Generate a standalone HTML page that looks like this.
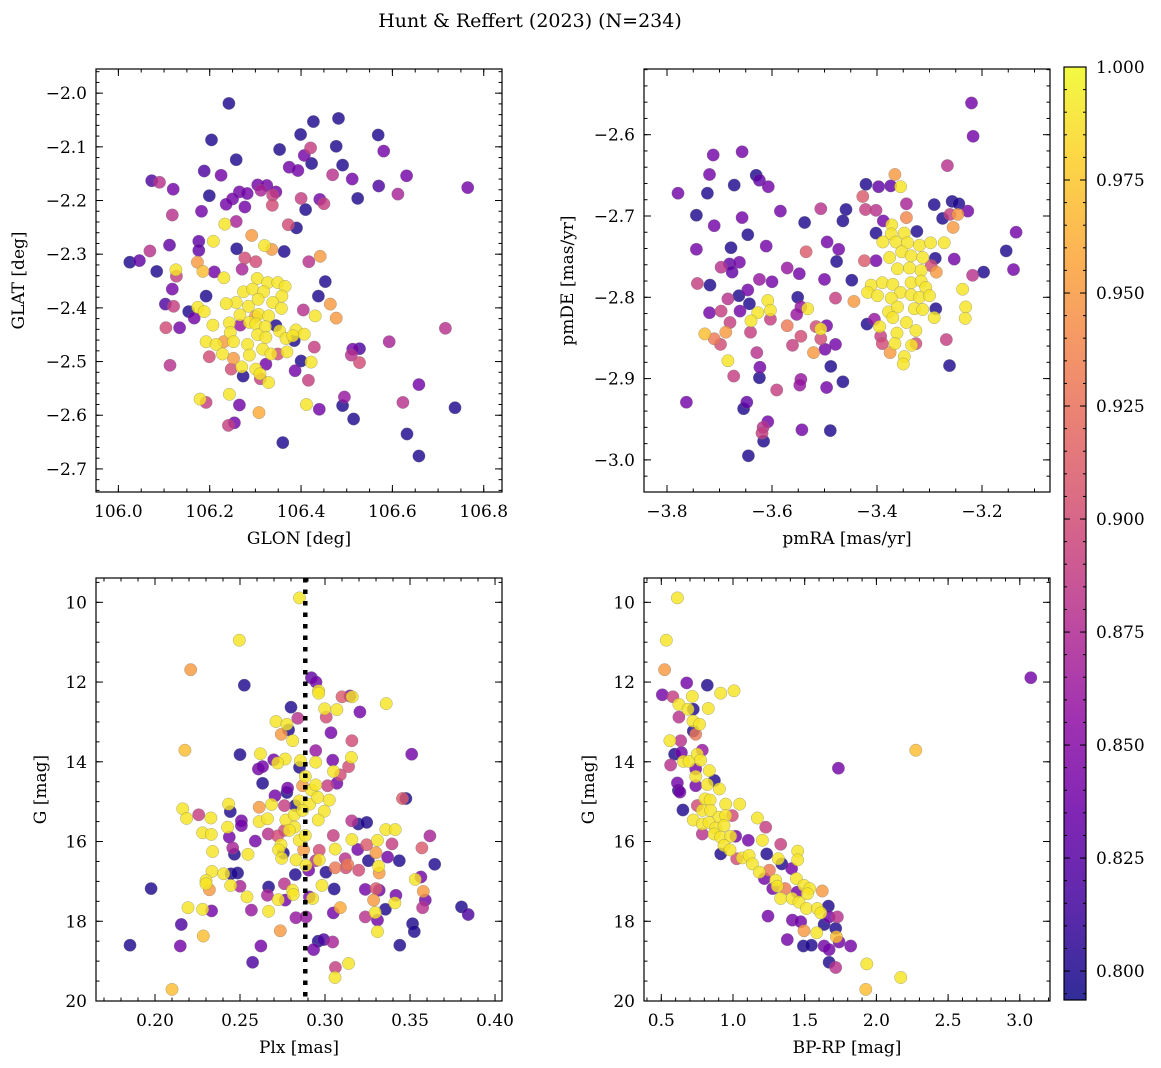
<!DOCTYPE html>
<html><head><meta charset="utf-8">
<style>
html,body{margin:0;padding:0;background:#fff;}
svg{display:block;font-family:"DejaVu Serif","Liberation Serif",serif;}
</style></head>
<body>
<svg id="fig" width="1161" height="1068" viewBox="0 0 1161 1068" xmlns="http://www.w3.org/2000/svg">
<text x="530" y="27" font-size="19" text-anchor="middle">Hunt &amp; Reffert (2023) (N=234)</text>
</svg>
<script>
// ---- Panel 1: GLON / GLAT ----
const glon = [106.242,106.427,106.482,106.399,106.569,106.204,106.353,106.421,106.477,106.581,106.258,106.407,106.423,106.491,106.374,106.393,106.188,106.225,106.073,106.090,106.469,106.512,106.631,106.120,106.570,106.765,106.612,106.199,106.265,106.282,106.305,106.325,106.345,106.312,106.338,106.250,106.236,106.277,106.337,106.400,106.441,106.450,106.524,106.182,106.118,106.410,106.258,106.233,106.372,106.390,106.292,106.208,106.320,106.336,106.363,106.259,106.176,106.176,106.112,106.069,106.025,106.046,106.084,106.126,106.127,106.173,106.185,106.210,106.231,106.277,106.301,106.271,106.417,106.442,106.453,106.438,106.118,106.192,106.103,106.121,106.154,106.166,106.174,106.188,106.104,106.134,106.464,106.477,106.405,106.431,
106.304,106.327,106.349,106.365,106.274,106.294,106.318,106.358,106.338,106.258,106.236,106.285,106.306,106.357,106.266,106.307,106.329,106.207,106.243,106.287,106.301,106.322,106.353,106.389,106.407,106.245,106.192,106.214,106.252,106.283,106.305,106.323,106.367,106.382,106.228,106.287,106.316,106.334,106.369,106.422,106.270,106.301,106.310,106.329,106.243,106.179,106.412,
106.231,106.199,106.252,106.247,106.349,106.429,106.416,106.300,106.267,106.345,106.385,106.400,106.387,106.273,106.323,106.311,106.513,106.528,106.510,106.528,106.593,106.716,106.658,106.623,106.737,106.632,106.658,106.495,106.491,106.515,106.440,106.265,106.192,106.113,106.254,106.241,106.360,106.308];
const glat = [-2.019,-2.053,-2.047,-2.077,-2.078,-2.087,-2.105,-2.102,-2.099,-2.108,-2.124,-2.116,-2.131,-2.134,-2.138,-2.144,-2.145,-2.153,-2.163,-2.166,-2.152,-2.160,-2.154,-2.179,-2.173,-2.176,-2.188,-2.191,-2.184,-2.187,-2.171,-2.172,-2.184,-2.181,-2.190,-2.197,-2.207,-2.212,-2.209,-2.196,-2.198,-2.206,-2.196,-2.220,-2.227,-2.217,-2.239,-2.244,-2.245,-2.251,-2.265,-2.276,-2.284,-2.291,-2.295,-2.290,-2.276,-2.293,-2.283,-2.294,-2.315,-2.312,-2.332,-2.329,-2.341,-2.315,-2.332,-2.333,-2.344,-2.307,-2.314,-2.328,-2.314,-2.304,-2.351,-2.378,-2.365,-2.378,-2.393,-2.397,-2.407,-2.419,-2.399,-2.407,-2.437,-2.437,-2.393,-2.419,-2.404,-2.415,
-2.345,-2.353,-2.353,-2.360,-2.370,-2.365,-2.370,-2.378,-2.390,-2.390,-2.392,-2.397,-2.384,-2.401,-2.413,-2.412,-2.415,-2.432,-2.428,-2.427,-2.430,-2.435,-2.443,-2.441,-2.449,-2.446,-2.463,-2.468,-2.463,-2.468,-2.450,-2.455,-2.457,-2.452,-2.486,-2.488,-2.477,-2.486,-2.482,-2.501,-2.510,-2.514,-2.523,-2.539,-2.561,-2.570,-2.580,
-2.463,-2.491,-2.494,-2.514,-2.486,-2.473,-2.535,-2.416,-2.432,-2.433,-2.461,-2.499,-2.517,-2.527,-2.505,-2.532,-2.477,-2.476,-2.488,-2.502,-2.463,-2.438,-2.543,-2.576,-2.586,-2.635,-2.676,-2.566,-2.582,-2.607,-2.589,-2.581,-2.576,-2.507,-2.614,-2.619,-2.651,-2.595];
const prob1 = [.80,.80,.80,.80,.80,.80,.80,.89,.80,.84,.80,.84,.80,.80,.84,.84,.82,.84,.82,.88,.88,.84,.84,.84,.82,.84,.87,.80,.84,.84,.84,.84,.84,.87,.89,.84,.84,.84,.90,.89,.84,.89,.80,.84,.88,.80,.87,.99,.90,.80,.95,.99,.99,.95,.80,.80,.83,.83,.83,.88,.80,.83,.80,.99,.89,.95,.97,.84,.99,.90,.90,.87,.88,.95,.80,.80,.84,.80,.82,.89,.80,.84,.99,.99,.90,.84,.95,.95,.88,.99,
.99,.99,.99,.99,.99,.99,.99,.99,.99,.99,.99,.99,.99,.99,.99,.99,.99,.99,.99,.99,.99,.99,.99,.99,.99,.99,.99,.99,.99,.99,.99,.99,.99,.99,.99,.99,.99,.99,.99,.99,.99,.99,.99,.99,.99,.99,.99,
.95,.90,.95,.90,.90,.89,.89,.95,.86,.80,.80,.80,.84,.80,.84,.89,.84,.82,.88,.90,.87,.88,.84,.88,.80,.80,.80,.86,.80,.80,.84,.84,.89,.88,.84,.89,.80,.96];
const p1XTicks = [106.0,106.2,106.4,106.6,106.8];
const p1XLabels = ["106.0","106.2","106.4","106.6","106.8"];
const p1YTicks = [-2.0,-2.1,-2.2,-2.3,-2.4,-2.5,-2.6,-2.7];
const p1YLabels = ["−2.0","−2.1","−2.2","−2.3","−2.4","−2.5","−2.6","−2.7"];

// ---- Panel 2: pmRA / pmDE ----
const pmra = [-3.220,-3.217,-3.266,-3.366,-3.355,-3.421,-3.397,-3.374,-3.657,-3.712,-3.719,-3.779,-3.723,-3.672,-3.630,-3.624,-3.607,-3.744,-3.710,-3.657,-3.646,-3.584,-3.538,-3.507,-3.459,-3.465,-3.427,-3.422,-3.402,-3.388,-3.344,-3.344,-3.291,-3.257,-3.244,-3.227,-3.275,-3.261,-3.246,-3.255,-3.135,-3.154,-3.140,-3.197,-3.218,-3.253,-3.289,-3.324,-3.402,-3.744,-3.678,-3.611,-3.535,-3.495,-3.473,-3.477,-3.424,-3.402,-3.697,-3.681,-3.662,-3.676,-3.571,-3.548,-3.742,-3.718,-3.624,-3.600,-3.500,-3.448,-3.646,-3.663,-3.684,-3.643,-3.661,-3.697,-3.719,-3.551,-3.545,-3.553,-3.479,-3.444,-3.603,-3.680,-3.728,-3.710,-3.698,-3.688,-3.641,-3.571,-3.545,-3.561,-3.516,-3.496,-3.507,-3.499,-3.479,-3.521,-3.684,-3.629,-3.623,-3.624,-3.673,-3.488,-3.545,-3.547,-3.496,-3.465,-3.591,-3.763,-3.648,-3.654,-3.608,-3.617,-3.619,-3.616,-3.543,-3.489,-3.645,-3.288,-3.262,-3.268,-3.419,-3.405,-3.393,-3.390,-3.375,-3.326,
-3.627,-3.608,-3.603,-3.640,-3.532,-3.507,
-3.372,-3.373,-3.348,-3.389,-3.364,-3.342,-3.319,-3.298,-3.272,-3.376,-3.353,-3.335,-3.313,-3.361,-3.338,-3.316,-3.411,-3.390,-3.370,-3.335,-3.316,-3.307,-3.237,-3.418,-3.399,-3.355,-3.335,-3.319,-3.300,-3.373,-3.378,-3.361,-3.329,-3.313,-3.291,-3.231,-3.232,-3.370,-3.344,-3.395,-3.362,-3.326,-3.366,-3.334,-3.348,-3.350,-3.287,-3.297];
const pmde = [-2.561,-2.602,-2.638,-2.649,-2.664,-2.661,-2.664,-2.663,-2.621,-2.625,-2.649,-2.672,-2.672,-2.662,-2.650,-2.656,-2.664,-2.699,-2.712,-2.702,-2.723,-2.694,-2.708,-2.691,-2.692,-2.706,-2.676,-2.692,-2.693,-2.706,-2.685,-2.702,-2.686,-2.682,-2.685,-2.694,-2.703,-2.698,-2.698,-2.714,-2.720,-2.743,-2.766,-2.769,-2.773,-2.753,-2.752,-2.719,-2.721,-2.741,-2.739,-2.737,-2.744,-2.732,-2.741,-2.756,-2.755,-2.755,-2.763,-2.759,-2.757,-2.769,-2.764,-2.771,-2.783,-2.785,-2.778,-2.781,-2.778,-2.779,-2.791,-2.798,-2.802,-2.808,-2.817,-2.817,-2.819,-2.800,-2.812,-2.821,-2.801,-2.805,-2.827,-2.831,-2.845,-2.851,-2.858,-2.843,-2.843,-2.835,-2.848,-2.859,-2.836,-2.835,-2.851,-2.864,-2.858,-2.868,-2.878,-2.868,-2.886,-2.899,-2.897,-2.885,-2.901,-2.908,-2.911,-2.904,-2.914,-2.929,-2.929,-2.937,-2.953,-2.960,-2.967,-2.977,-2.963,-2.964,-2.995,-2.814,-2.884,-2.852,-2.833,-2.827,-2.848,-2.857,-2.868,-2.857,
-2.819,-2.804,-2.816,-2.829,-2.814,-2.839,
-2.711,-2.722,-2.721,-2.732,-2.732,-2.733,-2.736,-2.733,-2.733,-2.751,-2.744,-2.749,-2.751,-2.765,-2.764,-2.767,-2.785,-2.782,-2.784,-2.782,-2.780,-2.788,-2.790,-2.794,-2.798,-2.794,-2.797,-2.800,-2.798,-2.801,-2.818,-2.812,-2.814,-2.815,-2.825,-2.812,-2.826,-2.825,-2.831,-2.836,-2.844,-2.841,-2.857,-2.859,-2.873,-2.882,-2.769,-2.761];
const prob2 = [.84,.84,.88,.95,.99,.80,.83,.83,.84,.84,.84,.84,.80,.80,.80,.83,.84,.80,.84,.84,.80,.84,.80,.88,.80,.80,.91,.89,.88,.84,.87,.94,.80,.80,.80,.84,.80,.89,.95,.95,.84,.80,.84,.80,.88,.84,.80,.80,.80,.84,.80,.84,.91,.84,.84,.80,.91,.84,.88,.83,.84,.83,.86,.84,.89,.80,.86,.84,.84,.80,.84,.80,.88,.80,.84,.89,.84,.80,.86,.86,.89,.95,.89,.89,.97,.93,.90,.95,.89,.93,.90,.89,.90,.84,.90,.84,.84,.95,.99,.88,.84,.80,.89,.80,.86,.86,.84,.80,.89,.84,.83,.80,.84,.88,.89,.80,.84,.80,.80,.80,.80,.89,.80,.86,.89,.90,.95,.90,
.99,.99,.99,.99,.99,.99,
.99,.99,.99,.99,.99,.99,.99,.99,.99,.99,.99,.99,.99,.99,.99,.99,.99,.99,.99,.99,.99,.99,.99,.99,.99,.99,.99,.99,.99,.99,.99,.99,.99,.99,.99,.99,.99,.99,.99,.99,.99,.99,.99,.99,.99,.99,.95,.90];
const p2XTicks = [-3.8,-3.6,-3.4,-3.2];
const p2XLabels = ["−3.8","−3.6","−3.4","−3.2"];
const p2YTicks = [-2.6,-2.7,-2.8,-2.9,-3.0];
const p2YLabels = ["−2.6","−2.7","−2.8","−2.9","−3.0"];

// ---- Panel 3: Plx / G ----
const plx = [0.285,0.2496,0.221,0.2525,0.292,0.2947,0.2962,0.2963,0.310,0.3147,0.316,0.336,0.3205,0.280,0.284,0.2998,0.307,0.3007,0.2712,0.2776,0.2786,0.2743,0.281,0.3035,0.3158,0.351,0.250,0.2176,0.262,0.2698,0.2766,0.2721,0.2608,0.2633,0.285,0.2855,0.2945,0.2945,0.3045,0.3139,0.3155,0.305,0.309,0.307,0.2884,0.2633,0.278,0.2868,0.292,0.2945,0.3015,0.2706,0.2776,0.2849,0.291,0.2957,0.3025,0.2686,0.2761,0.2613,0.2433,0.2443,0.2257,0.2163,0.2186,0.2329,0.2508,0.2508,0.2613,0.2662,0.2770,0.2819,0.2868,0.2996,0.296,0.2825,0.3157,0.3196,0.3245,0.2821,0.279,0.2761,0.2721,0.2666,0.259,0.2437,0.2427,0.2280,0.2331,0.2457,0.2467,0.2339,0.2547,0.2741,0.2727,0.2745,0.2755,0.2849,0.2884,0.2874,0.283,0.2888,0.2904,0.2966,0.2966,0.2945,0.3005,0.306,0.3049,0.306,0.3123,0.3134,0.3119,0.3198,0.3158,0.3192,0.3245,0.3255,0.3309,0.330,0.3315,0.3319,0.3368,0.3358,0.3413,0.3394,0.3437,0.3617,0.357,0.3645,0.3456,0.3476,0.2335,0.2404,0.2447,0.2486,0.230,0.230,0.232,0.1977,0.2445,0.250,0.2541,0.2668,0.2661,0.2761,0.2725,0.2766,0.2809,0.2813,0.2825,0.2927,0.2908,0.2982,0.3054,0.3237,0.330,0.3319,0.3417,0.3411,0.3355,0.3286,0.3296,0.3237,0.3309,0.3309,0.3531,0.3564,0.3578,0.359,0.3574,0.3515,0.3525,0.3803,0.3842,0.2194,0.2280,0.2333,0.2567,0.2668,0.2829,0.2888,0.3049,0.309,0.2155,0.2284,0.2737,0.2149,0.1853,0.2623,0.296,0.2992,0.3045,0.2933,0.2574,0.3061,0.3139,0.3059,0.210,0.344];
const gmag3 = [9.89,10.95,11.69,12.08,11.89,12.0,12.22,12.28,12.37,12.35,12.37,12.54,12.75,12.63,12.91,12.67,12.69,12.88,12.99,13.06,13.20,13.31,13.47,13.27,13.47,13.81,13.82,13.71,13.80,13.95,13.93,14.03,14.18,14.12,14.14,13.97,14.01,13.72,13.96,14.12,13.89,14.24,14.33,14.54,14.37,14.54,14.66,14.60,14.71,14.58,14.60,14.85,14.77,14.98,15.06,14.89,14.96,15.07,15.10,15.14,15.06,15.25,15.33,15.18,15.42,15.41,15.48,15.60,15.50,15.43,15.46,15.33,15.22,15.24,15.46,15.10,15.48,15.56,15.52,15.64,15.72,15.72,15.86,15.81,15.99,15.89,15.64,15.78,15.82,16.16,16.32,16.25,16.32,16.08,16.21,16.42,16.29,15.97,15.85,16.21,16.46,16.60,16.72,16.22,16.46,16.48,16.77,16.19,15.85,16.66,16.66,16.58,16.43,16.72,15.95,16.20,16.08,16.48,15.97,16.28,16.62,16.79,16.39,15.70,15.70,16.06,16.48,15.86,16.16,16.57,14.92,14.92,16.75,16.81,16.81,16.79,16.98,17.06,17.21,17.18,17.10,17.12,17.39,17.14,17.35,17.06,17.46,17.47,17.22,17.33,16.83,17.43,17.39,17.10,17.19,17.20,17.18,17.22,17.35,17.54,17.70,17.47,17.78,17.89,17.97,18.26,16.95,16.89,17.25,17.47,17.66,18.06,18.26,17.64,17.83,17.66,17.70,17.74,17.72,17.75,17.91,17.89,17.79,17.66,18.08,18.37,18.24,18.62,18.60,18.62,18.50,18.46,18.52,18.71,19.03,19.16,19.06,19.41,19.71,18.60];
const prob3 = [.99,.99,.95,.80,.83,.84,.99,.99,.91,.84,.99,.99,.84,.80,.88,.99,.99,.90,.99,.99,.80,.95,.99,.84,.90,.84,.80,.97,.99,.84,.99,.99,.84,.84,.80,.99,.99,.86,.84,.90,.99,.99,.90,.84,.99,.80,.84,.95,.99,.99,.89,.84,.80,.99,.99,.99,.99,.99,.89,.95,.99,.80,.89,.99,.99,.99,.84,.84,.99,.99,.99,.99,.99,.99,.99,.80,.88,.80,.80,.99,.99,.90,.90,.88,.84,.84,.99,.99,.99,.87,.80,.99,.99,.99,.99,.99,.80,.99,.99,.95,.99,.99,.84,.90,.99,.88,.80,.99,.89,.93,.90,.93,.88,.90,.99,.84,.91,.80,.99,.95,.99,.95,.84,.99,.99,.89,.80,.87,.91,.80,.91,.80,.99,.99,.80,.80,.99,.99,.95,.80,.99,.87,.99,.80,.87,.88,.99,.84,.99,.99,.80,.99,.84,.99,.80,.84,.91,.84,.84,.99,.80,.95,.99,.88,.84,.99,.99,.84,.95,.84,.88,.80,.80,.80,.82,.99,.99,.84,.86,.99,.86,.86,.84,.96,.82,.97,.95,.84,.80,.84,.80,.82,.87,.84,.82,.89,.99,.99,.97,.80];
const p3XTicks = [0.20,0.25,0.30,0.35,0.40];
const p3XLabels = ["0.20","0.25","0.30","0.35","0.40"];
const p3YTicks = [10,12,14,16,18,20];
const p3YLabels = ["10","12","14","16","18","20"];
const plxRef = 0.2884;

// ---- Panel 4: BP-RP / G ----
const bprp = [0.612,0.535,0.523,0.677,0.821,0.914,1.007,3.077,2.275,1.735,0.507,0.581,0.716,0.623,0.686,0.723,0.828,0.623,0.721,0.767,0.723,0.740,0.560,0.635,0.593,0.640,0.786,0.565,0.654,0.693,0.751,0.774,0.740,0.835,0.870,0.612,0.630,0.619,0.740,0.740,0.821,0.905,0.651,0.751,0.805,0.840,0.949,1.047,0.723,0.786,0.844,0.902,0.949,0.995,0.786,0.833,0.879,0.937,0.786,0.868,0.914,0.984,1.019,1.170,1.228,1.205,1.333,1.107,0.937,0.979,0.914,1.026,1.065,1.112,1.135,1.235,1.316,1.340,1.451,1.451,1.409,1.184,1.254,1.219,1.298,1.309,1.277,1.363,1.442,1.447,1.495,1.535,1.623,1.519,1.333,1.412,1.460,1.512,1.588,1.612,1.665,1.728,1.670,1.635,1.716,1.244,1.414,1.472,1.495,1.584,1.721,1.740,1.379,1.491,1.547,1.635,1.670,1.821,1.670,1.716,1.933,2.170,1.926];
const gmag4 = [9.89,10.95,11.69,12.02,12.08,12.28,12.22,11.89,13.71,14.16,12.32,12.37,12.36,12.56,12.68,12.68,12.66,12.88,12.98,13.06,13.23,13.31,13.47,13.47,13.81,13.77,13.71,14.08,13.99,13.99,13.81,13.96,14.18,14.22,14.47,14.53,14.76,14.72,14.37,14.60,14.57,14.68,15.21,15.10,14.93,14.96,15.06,15.06,15.46,15.22,15.22,15.39,15.35,15.35,15.56,15.52,15.66,15.60,15.81,15.81,15.89,15.87,15.87,15.41,15.64,15.97,16.07,15.97,16.10,16.21,16.31,16.43,16.41,16.35,16.56,16.31,16.43,16.56,16.24,16.46,16.68,16.77,16.72,16.93,16.97,17.12,17.18,17.18,16.93,17.27,17.10,17.18,17.24,17.31,17.43,17.43,17.52,17.68,17.68,17.79,17.62,17.89,17.89,18.08,18.18,17.87,17.97,18.01,18.24,18.29,18.39,18.52,18.46,18.62,18.60,18.62,18.71,18.62,19.03,19.16,19.07,19.41,19.71];
const prob4 = [.99,.99,.95,.84,.80,.99,.99,.84,.97,.84,.84,.89,.99,.99,.99,.80,.99,.88,.99,.99,.80,.93,.99,.88,.80,.84,.86,.88,.99,.99,.99,.99,.84,.99,.80,.84,.84,.80,.99,.84,.99,.99,.80,.90,.99,.99,.99,.99,.99,.99,.99,.99,.99,.90,.99,.99,.99,.99,.88,.99,.99,.99,.84,.99,.89,.99,.89,.84,.99,.99,.80,.90,.99,.99,.99,.80,.99,.80,.99,.99,.84,.99,.93,.84,.99,.99,.84,.93,.99,.84,.99,.99,.95,.99,.99,.99,.99,.99,.99,.99,.80,.88,.84,.80,.80,.84,.84,.84,.95,.99,.97,.84,.84,.80,.80,.84,.84,.84,.80,.88,.99,.99,.97];
const p4XTicks = [0.5,1.0,1.5,2.0,2.5,3.0];
const p4XLabels = ["0.5","1.0","1.5","2.0","2.5","3.0"];
const p4YTicks = [10,12,14,16,18,20];
const p4YLabels = ["10","12","14","16","18","20"];

// ---- Colorbar ----
const cbTicks = [0.800,0.825,0.850,0.875,0.900,0.925,0.950,0.975,1.000];
const cbLabels = ["0.800","0.825","0.850","0.875","0.900","0.925","0.950","0.975","1.000"];
const VMIN = 0.7936, VMAX = 1.0;

const NS = "http://www.w3.org/2000/svg";
const svg = document.getElementById('fig');
function el(tag, attrs, parent){
  const e = document.createElementNS(NS, tag);
  for (const k in attrs) e.setAttribute(k, attrs[k]);
  (parent||svg).appendChild(e);
  return e;
}
const PL = ["#0d0887","#41049d","#6a00a8","#8f0da4","#b12a90","#cc4778","#e16462","#f2844b","#fca636","#fcce25","#f0f921"];
function hex(h){return [parseInt(h.substr(1,2),16),parseInt(h.substr(3,2),16),parseInt(h.substr(5,2),16)];}
function plasma(t){
  t=Math.max(0,Math.min(1,t)); const f=t*10, i=Math.min(9,Math.floor(f)), r=f-i;
  const a=hex(PL[i]), b=hex(PL[i+1]);
  return "rgb("+a.map((v,k)=>Math.round(v+(b[k]-v)*r)).join(",")+")";
}
function cmap(v){return plasma((v-VMIN)/(VMAX-VMIN));}

function panel(cfg){
  const {name,x0,x1,y0,y1,xmin,xmax,ymin,ymax,xs,ys,cs,xt,xl,yt,yl,xminor,yminor,xlabel,ylabel,ylabelX,invert} = cfg;
  const sx = v => x0 + (v-xmin)/(xmax-xmin)*(x1-x0);
  const sy = invert ? (v => y0 + (v-ymin)/(ymax-ymin)*(y1-y0)) : (v => y1 - (v-ymin)/(ymax-ymin)*(y1-y0));
  const g = el('g',{});
  
  
  const gp = el('g',{},g);
  
  
  const idx = cs.map((c,i)=>i).sort((a,b)=>cs[a]-cs[b]);
  idx.forEach(i=>{
    const c = el('circle',{cx:sx(xs[i]).toFixed(1),cy:sy(ys[i]).toFixed(1),r:6.2,fill:cmap(cs[i]),'fill-opacity':0.82,stroke:'#777','stroke-width':0.5,'stroke-opacity':0.6},gp);
    
    
  });
  if (cfg.vline!==undefined){
    const l = el('line',{x1:sx(cfg.vline),x2:sx(cfg.vline),y1:y0,y2:y1,stroke:'#000','stroke-width':4.5,'stroke-dasharray':'4.5 7'},g);
    
    
  }
  const fr = el('rect',{x:x0,y:y0,width:x1-x0,height:y1-y0,fill:'none',stroke:'#000','stroke-width':1.2},g);
  
  
  const tk = el('g',{stroke:'#000','stroke-width':1},g);
  for (let v=Math.ceil(xmin/xminor)*xminor; v<=xmax+1e-9; v+=xminor){
    const x=sx(v); el('line',{x1:x,x2:x,y1:y1,y2:y1-3.5},tk); el('line',{x1:x,x2:x,y1:y0,y2:y0+3.5},tk);
  }
  for (let v=Math.ceil(ymin/yminor)*yminor; v<=ymax+1e-9; v+=yminor){
    const y=sy(v); el('line',{x1:x0,x2:x0+3.5,y1:y,y2:y},tk); el('line',{x1:x1,x2:x1-3.5,y1:y,y2:y},tk);
  }
  xt.forEach((v,i)=>{
    const x=sx(v); el('line',{x1:x,x2:x,y1:y1,y2:y1-7},tk); el('line',{x1:x,x2:x,y1:y0,y2:y0+7},tk);
    const t=el('text',{x:x,y:y1+25,'font-size':17,'text-anchor':'middle'},g); t.textContent=xl[i];
    
    
  });
  yt.forEach((v,i)=>{
    const y=sy(v); el('line',{x1:x0,x2:x0+7,y1:y,y2:y},tk); el('line',{x1:x1,x2:x1-7,y1:y,y2:y},tk);
    const t=el('text',{x:x0-9,y:y+6,'font-size':17,'text-anchor':'end'},g); t.textContent=yl[i];
    
    
  });
  const xa=el('text',{x:(x0+x1)/2,y:y1+52,'font-size':17,'text-anchor':'middle'},g); xa.textContent=xlabel;
  
  
  const cy=(y0+y1)/2;
  const ya=el('text',{x:ylabelX,y:cy,'font-size':17,'text-anchor':'middle',transform:'rotate(-90 '+ylabelX+' '+cy+')'},g); ya.textContent=ylabel;
  
  
}

panel({name:'glon-glat-panel',x0:96,x1:502,y0:69,y1:492,xmin:105.951,xmax:106.840,ymin:-2.743,ymax:-1.955,xs:glon,ys:glat,cs:prob1,xt:p1XTicks,xl:p1XLabels,yt:p1YTicks,yl:p1YLabels,xminor:0.05,yminor:0.02,xlabel:'GLON [deg]',ylabel:'GLAT [deg]',ylabelX:24});
panel({name:'pm-panel',x0:644,x1:1050,y0:69,y1:492,xmin:-3.8438,xmax:-3.0705,ymin:-3.0395,ymax:-2.5192,xs:pmra,ys:pmde,cs:prob2,xt:p2XTicks,xl:p2XLabels,yt:p2YTicks,yl:p2YLabels,xminor:0.05,yminor:0.02,xlabel:'pmRA [mas/yr]',ylabel:'pmDE [mas/yr]',ylabelX:573});
panel({name:'plx-g-panel',x0:96,x1:502,y0:578,y1:1001,xmin:0.1653,xmax:0.4041,ymin:9.39,ymax:20,invert:true,xs:plx,ys:gmag3,cs:prob3,xt:p3XTicks,xl:p3XLabels,yt:p3YTicks,yl:p3YLabels,xminor:0.01,yminor:0.5,xlabel:'Plx [mas]',ylabel:'G [mag]',ylabelX:46,vline:plxRef});
panel({name:'cmd-panel',x0:644,x1:1050,y0:578,y1:1001,xmin:0.3794,xmax:3.2106,ymin:9.39,ymax:20,invert:true,xs:bprp,ys:gmag4,cs:prob4,xt:p4XTicks,xl:p4XLabels,yt:p4YTicks,yl:p4YLabels,xminor:0.1,yminor:0.5,xlabel:'BP-RP [mag]',ylabel:'G [mag]',ylabelX:594});

(function(){
  const cx0=1064, cx1=1086, cy0=67, cy1=1000;
  const g=el('g',{});
  
  
  const defs=el('defs',{},g);
  const lg=el('linearGradient',{id:'cbg',x1:0,y1:1,x2:0,y2:0},defs);
  for(let i=0;i<=20;i++){el('stop',{offset:(i/20),'stop-color':plasma(i/20),'stop-opacity':0.85},lg);}
  const r=el('rect',{x:cx0,y:cy0,width:cx1-cx0,height:cy1-cy0,fill:'url(#cbg)',stroke:'#000','stroke-width':1.2},g);
  
  
  const sy=v=>cy1-(v-VMIN)/(VMAX-VMIN)*(cy1-cy0);
  for(let v=0.795; v<=1.0001; v+=0.005){
    const y=sy(v); el('line',{x1:cx1,x2:cx1-3,y1:y,y2:y,stroke:'#000'},g); el('line',{x1:cx0,x2:cx0+3,y1:y,y2:y,stroke:'#000'},g);
  }
  cbTicks.forEach((v,i)=>{
    const y=sy(v);
    el('line',{x1:cx1,x2:cx1-6,y1:y,y2:y,stroke:'#000'},g); el('line',{x1:cx0,x2:cx0+6,y1:y,y2:y,stroke:'#000'},g);
    const t=el('text',{x:1096,y:y+6,'font-size':17},g); t.textContent=cbLabels[i];
    
    
  });
})();
</script>
</body></html>
